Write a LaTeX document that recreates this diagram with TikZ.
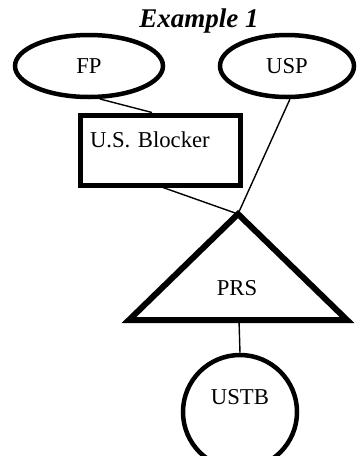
\documentclass[tikz,border=0pt]{standalone}
\usepackage{fontspec}
\setmainfont{Liberation Serif}
\usepackage{tikz}
\usetikzlibrary{shapes.geometric}

\begin{document}
\begin{tikzpicture}[
    x=1pt, y=-1pt,
    lbl/.style={font=\fontsize{22.7}{26}\selectfont},
    oval/.style={ellipse, draw, line width=4.5pt, inner sep=0pt, lbl},
    blockbox/.style={rectangle, draw, line width=5pt, minimum width=160pt,
                     minimum height=70pt, text width=140pt, inner xsep=10pt,
                     inner ysep=0pt, align=left, lbl},
    link/.style={line width=1.4pt},
]
\useasboundingbox (0,0) rectangle (357,456);
\node[font=\fontsize{27}{30}\selectfont\bfseries\itshape, anchor=base] (title) at (199,27) {Example 1};
\node[oval, minimum width=148pt, minimum height=62pt] (fp) at (89,66) {FP};
\node[oval, minimum width=134pt, minimum height=62pt] (usp) at (287,66) {USP};
\node[blockbox, text height=16pt, text depth=21pt] (blocker) at (160,150) {U.S. Blocker};
\draw[line width=6pt] (238,214) coordinate (apex) -- (347,320) -- (129,320) -- cycle;
\coordinate (base) at (239,320);
\node[lbl] (prs) at (237,288) {PRS};
\node[oval, minimum width=114pt, minimum height=114pt, text height=16pt,
      text depth=31pt] (ustb) at (240,412) {USTB};

\draw[link] (fp.-72) -- ([xshift=-8pt]blocker.north);
\draw[link] (usp.-85) -- (apex);
\draw[link] ([xshift=3pt]blocker.south) -- (apex);
\draw[link] (base) -- (ustb.north);
\end{tikzpicture}
\end{document}
